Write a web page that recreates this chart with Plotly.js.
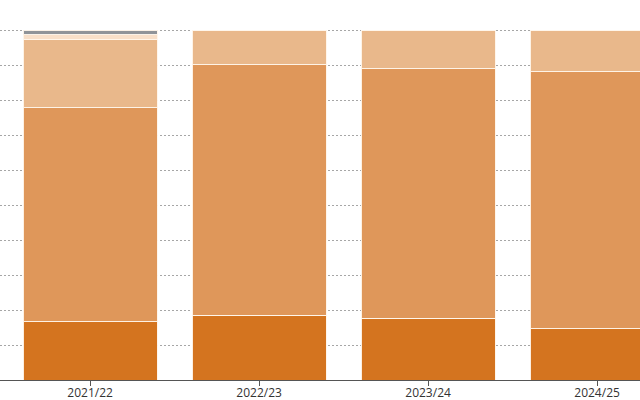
<!DOCTYPE html>
<html>
<head>
<meta charset="utf-8">
<script src="https://cdn.plot.ly/plotly-3.0.1.min.js"></script>
<style>html,body{margin:0;padding:0;background:#fff;}#chart{width:640px;height:400px;}</style>
</head>
<body>
<div id="chart"></div>
<script>
const years = ["2021/22", "2022/23", "2023/24", "2024/25"];
const seriesNames = ["Series 1", "Series 2", "Series 3", "Series 4", "Series 5"];
const series1 = [16.6, 18.5, 17.6, 14.7];
const series2 = [61.2, 71.6, 71.3, 73.4];
const series3 = [19.4, 9.9, 11.1, 11.9];
const series4 = [1.5, 0, 0, 0];
const series5 = [1.3, 0, 0, 0];
const colors = ["#d4741f", "#df975a", "#e9b88b", "#f8dfc8", "#8f9398"];

const allSeries = [series1, series2, series3, series4, series5];
const traces = allSeries.map((vals, i) => ({
  type: "bar",
  name: seriesNames[i],
  x: years,
  y: vals,
  marker: { color: colors[i], line: { color: "rgba(255,245,235,0.95)", width: 1 } },
  hoverinfo: "x+y+name",
  showlegend: false
}));

const layout = {
  width: 640, height: 400,
  margin: { l: 0, r: 0, t: 28, b: 20, pad: 0 },
  barmode: "stack",
  bargap: 0.207,
  paper_bgcolor: "#fff",
  plot_bgcolor: "#fff",
  font: { family: "Open Sans, sans-serif", size: 12, color: "#333" },
  xaxis: {
    type: "category",
    range: [-0.533, 3.254],
    showline: true, linecolor: "#555", linewidth: 1,
    ticks: "outside", ticklen: 5, tickcolor: "#555",
    ticklabelstandoff: -3,
    showgrid: false,
    tickfont: { size: 12, color: "#333" }
  },
  yaxis: {
    range: [0, 100.57],
    tick0: 0,
    dtick: 10,
    showticklabels: false,
    showgrid: true, gridcolor: "#a6a6a6", griddash: "2px,2px", gridwidth: 1,
    zeroline: false, showline: false, ticks: ""
  }
};

Plotly.newPlot("chart", traces, layout, { displayModeBar: false, staticPlot: true });
</script>
</body>
</html>
